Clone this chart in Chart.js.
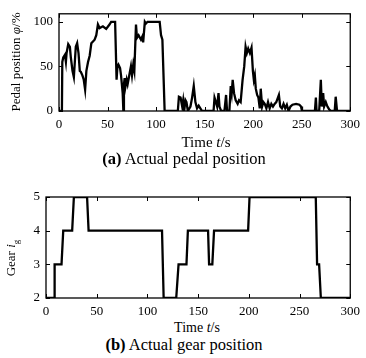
<!DOCTYPE html>
<html>
<head>
<meta charset="utf-8">
<script src="https://cdn.jsdelivr.net/npm/chart.js@4/dist/chart.umd.min.js"></script>
<style>
  body { margin: 0; background: #fff; width: 366px; height: 358px; position: relative; overflow: hidden; }
  canvas { position: absolute; left: 0; }
  .lbl { position: absolute; font-family: "Liberation Serif", serif; color: #000; white-space: nowrap; }
  .rot { transform: translate(-50%, -50%) rotate(-90deg); }
  .ctr { transform: translate(-50%, -50%); }
</style>
</head>
<body>
<canvas id="pedal" width="366" height="135" style="top:0"></canvas>
<canvas id="gear" width="366" height="140" style="top:180px"></canvas>

<div class="lbl rot" style="left:16px; top:62px; font-size:13px">Pedal position <i>φ</i>/%</div>
<div class="lbl ctr" style="left:206px; top:142px; font-size:15px">Time <i>t</i>/s</div>
<div class="lbl ctr" style="left:184px; top:159px; font-size:16.5px"><b>(a)</b> Actual pedal position</div>

<div class="lbl rot" style="left:12px; top:258px; font-size:13px">Gear <i>i</i><sub style="font-size:9px">g</sub></div>
<div class="lbl ctr" style="left:197px; top:328px; font-size:14px">Time <i>t</i>/s</div>
<div class="lbl ctr" style="left:184px; top:345px; font-size:16.5px"><b>(b)</b> Actual gear position</div>

<script>
// datos (a) pedal
const pedalTime = [0, 3.0, 3.4, 4.4, 6.1, 7.1, 7.8, 9.5, 11.2, 12.2, 13.9, 15.3, 16.3, 17.3, 18.7, 20.1,
  21.4, 22.4, 24.1, 25.5, 26.9, 28.2, 29.9, 31.6, 33.3, 35, 36.7, 38.4, 40.1, 41.8, 45.2, 48.6, 52, 53.7,
  57.8, 59.3, 60.2, 61.2, 62.9, 63.9, 65.6, 66.3, 66.9, 67.6, 68.4, 69.7, 70.7, 72.4, 74.1, 75.2, 76.5,
  77.6, 79.3, 80.3, 82, 84.4, 86, 86.7, 88.4, 89.5, 91.2, 103.7, 105.1, 106.5, 107.8, 108.8,
  122.4, 123.5, 125.2, 126.9, 127.9, 128.9, 130.3, 131.3, 132.7, 135.4, 137.1, 138.8, 140.5, 142.2, 143.9,
  145.6, 147.3, 159.2, 160.2, 161.6, 162.9, 164.3, 165.3, 167, 170.4, 172.1, 173.1, 175.5, 176.9, 177.9,
  178.9, 180.3, 182, 184, 185.4, 187.1, 189.1, 190.8, 192.2, 193.5, 194.9, 196.6, 198.3, 199.7, 200.7,
  201.7, 202.7, 204.1, 205.4, 206.8, 207.8, 209.2, 210.5, 211.9, 213.6, 215.3, 217, 218.7, 220.4, 222.1,
  223.8, 226.5, 227.9, 229.6, 231.3, 233, 234.7, 236.4, 238.4, 240.5, 244.2, 247.6, 249.3, 250.3,
  263.6, 264.6, 265.3, 268, 269.7, 270.7, 272.1, 273.1, 274.8, 276.5, 278.2, 279.9, 284, 285, 286.4, 300];
const pedalValue = [0, 0, 55, 60, 63, 55, 65, 75, 72, 60, 45, 38, 55, 72, 76, 65,
  45, 44, 40, 35, 24, 45, 55, 62, 76, 78, 80, 85, 97, 93, 95, 92, 97, 100,
  100, 35, 50, 52, 48, 40, 20, 0, 30, 37, 27, 35, 30, 40, 50, 40, 52,
  45, 97, 82, 85, 80, 84, 77, 100, 98, 100, 100, 85, 80, 35, 0,
  0, 16, 15, 5, 12, 0, 12, 10, 0, 5, 15, 28, 10, 3, 6,
  3, 0, 0, 15, 10, 5, 20, 5, 0, 0, 18, 0, 0, 28, 20,
  35, 20, 12, 8, 12, 10, 35, 50, 72, 65, 70, 65, 71, 45, 35,
  40, 25, 18, 15, 3, 25, 5, 10, 8, 3, 10, 3, 8, 5, 8,
  10, 18, 5, 3, 8, 3, 7, 0, 5, 7, 8, 7, 5, 0,
  0, 15, 0, 0, 35, 5, 20, 5, 10, 5, 2, 0, 0, 16, 0, 0];

// datos (b) marcha
const gearTime = [0, 8, 8.5, 15.3, 17, 25.8, 27.5, 40.5, 42, 114.4, 116, 128.4, 130.7, 138.5, 139.9,
  159.8, 160.8, 164, 165.7, 199.3, 200.7, 266, 267.3, 269.3, 271, 300];
const gearValue = [2, 2, 3, 3, 4, 4, 5, 5, 4, 4, 2, 2, 3, 3, 4, 4, 3, 3, 4, 4, 5, 5, 3, 3, 2, 2];

const timeTicks = [0, 50, 100, 150, 200, 250, 300];
const pedalTicks = [0, 50, 100];
const gearTicks = [2, 3, 4, 5];

// caja y marcas hacia dentro (estilo matlab)
const boxTicks = {
  id: 'boxTicks',
  afterDatasetsDraw(chart) {
    const { ctx, chartArea: a, scales: { x, y } } = chart;
    ctx.save();
    ctx.strokeStyle = '#000';
    ctx.lineWidth = 1.3;
    ctx.strokeRect(a.left, a.top, a.right - a.left, a.bottom - a.top);
    ctx.lineWidth = 1;
    ctx.beginPath();
    x.ticks.forEach(t => {
      const px = Math.round(x.getPixelForValue(t.value)) + 0.5;
      ctx.moveTo(px, a.bottom); ctx.lineTo(px, a.bottom - 4);
      ctx.moveTo(px, a.top); ctx.lineTo(px, a.top + 4);
    });
    y.ticks.forEach(t => {
      const py = Math.round(y.getPixelForValue(t.value)) + 0.5;
      ctx.moveTo(a.left, py); ctx.lineTo(a.left + 4, py);
      ctx.moveTo(a.right, py); ctx.lineTo(a.right - 4, py);
    });
    ctx.stroke();
    ctx.restore();
  }
};

function makeChart(id, xs, ys, yMin, yMax, yTicks, yWidth, xHeight, pad) {
  const pts = xs.map((t, i) => ({ x: t, y: ys[i] }));
  const font = { family: 'Liberation Serif', size: 13 };
  return new Chart(document.getElementById(id), {
    type: 'line',
    data: { datasets: [{ data: pts, borderColor: '#000', borderWidth: 2.3, pointRadius: 0, tension: 0, fill: false }] },
    options: {
      responsive: false,
      animation: false,
      layout: { padding: pad },
      plugins: { legend: { display: false }, tooltip: { enabled: false } },
      scales: {
        x: {
          type: 'linear', min: 0, max: 300,
          afterBuildTicks: s => { s.ticks = timeTicks.map(v => ({ value: v })); },
          afterFit: s => { s.height = xHeight; },
          grid: { display: false, drawTicks: false },
          border: { display: false },
          ticks: { color: '#000', font, padding: 6, maxRotation: 0 }
        },
        y: {
          min: yMin, max: yMax,
          afterBuildTicks: s => { s.ticks = yTicks.map(v => ({ value: v })); },
          afterFit: s => { s.width = yWidth; },
          grid: { display: false, drawTicks: false },
          border: { display: false },
          ticks: { color: '#000', font, padding: 6 }
        }
      }
    },
    plugins: [boxTicks]
  });
}

makeChart('pedal', pedalTime, pedalValue, 0, 109, pedalTicks, 59, 24, { top: 4, right: 13, left: 0, bottom: 0 });
makeChart('gear', gearTime, gearValue, 2, 5, gearTicks, 46, 22, { top: 17, right: 14, left: 0, bottom: 0 });
</script>
</body>
</html>
